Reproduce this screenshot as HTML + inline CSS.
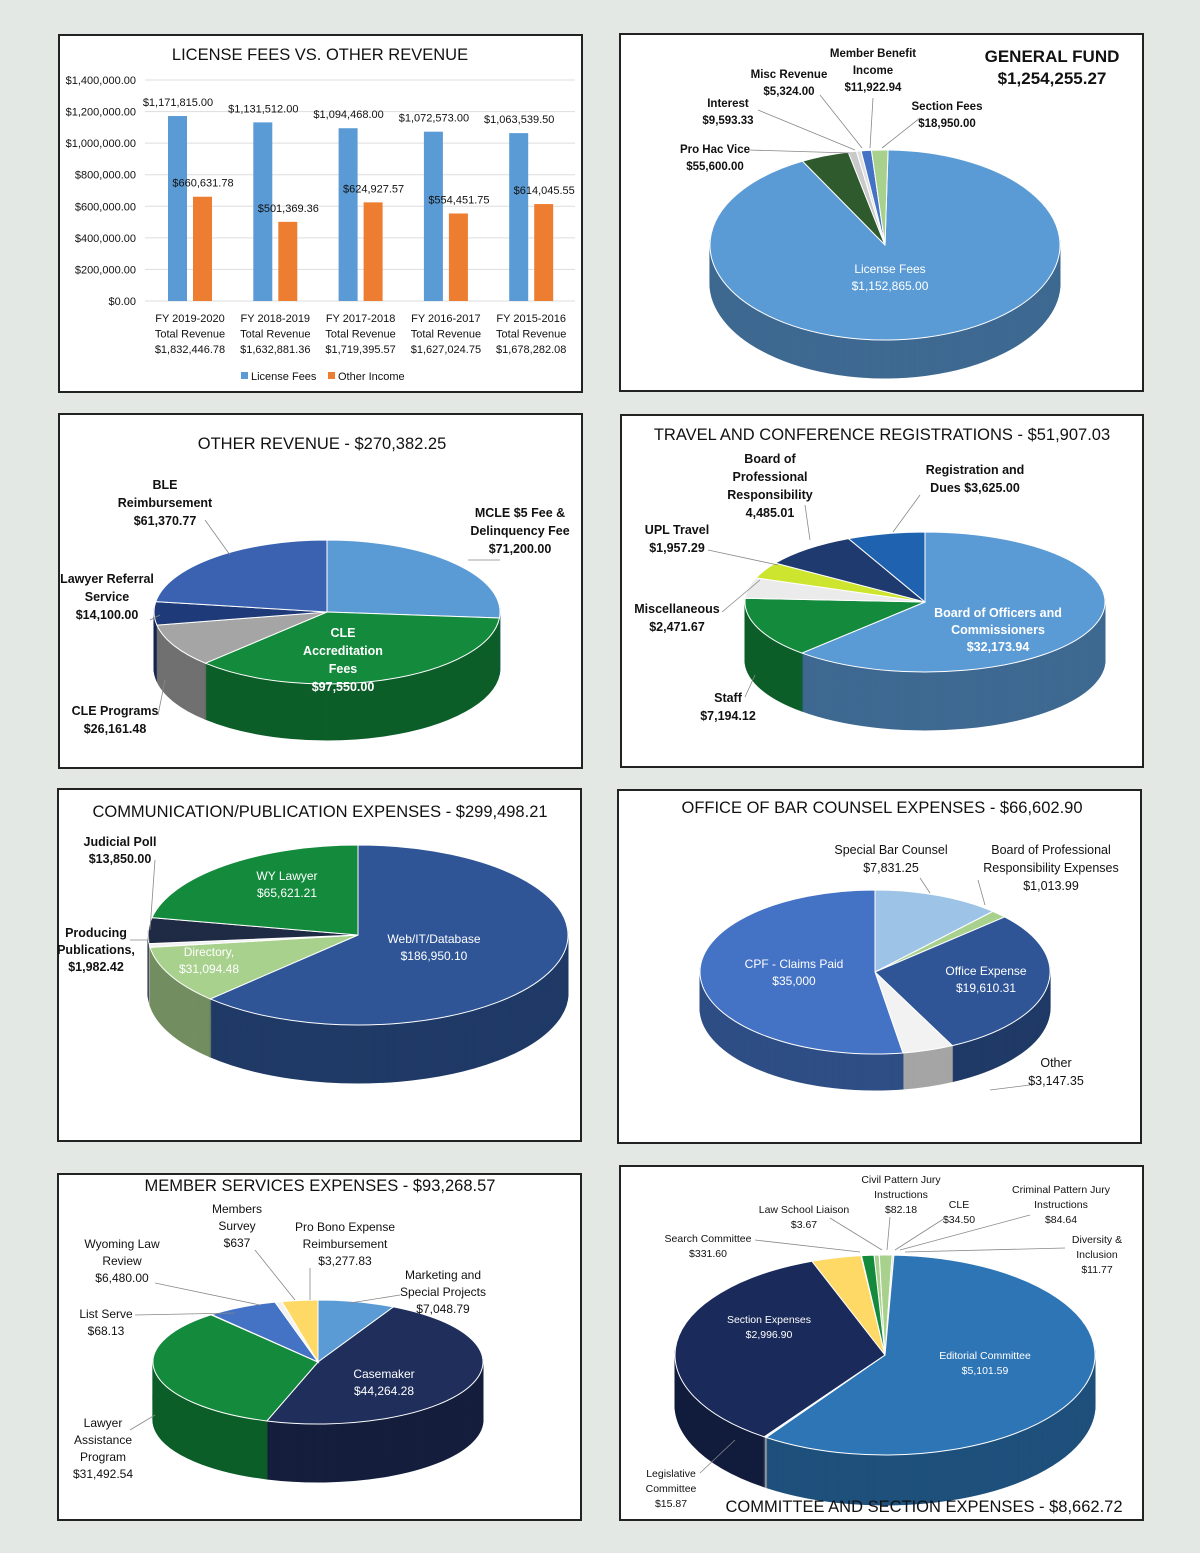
<!DOCTYPE html>
<html><head><meta charset="utf-8"><style>
html,body{margin:0;padding:0;background:#e6e9e6;}
svg{display:block;font-family:"Liberation Sans",sans-serif;}
</style></head><body>
<svg id="s" width="1200" height="1553" viewBox="0 0 1200 1553" xmlns="http://www.w3.org/2000/svg">
<rect width="1200" height="1553" fill="#e4e8e4"/>
</svg>
<script>
// ---- Bar chart data ----
const barCategories=["FY 2019-2020","FY 2018-2019","FY 2017-2018","FY 2016-2017","FY 2015-2016"];
const barTotals=["$1,832,446.78","$1,632,881.36","$1,719,395.57","$1,627,024.75","$1,678,282.08"];
const licenseFees=[1171815.00,1131512.00,1094468.00,1072573.00,1063539.50];
const otherIncome=[660631.78,501369.36,624927.57,554451.75,614045.55];
const barTicks=[0,200000,400000,600000,800000,1000000,1200000,1400000];
// ---- Pie data ----
const gfLabels=["License Fees","Pro Hac Vice","Interest","Misc Revenue","Member Benefit Income","Section Fees"];
const gfValues=[1152865.00,55600.00,9593.33,5324.00,11922.94,18950.00];
const orLabels=["MCLE $5 Fee","CLE Accreditation Fees","CLE Programs","Lawyer Referral Service","BLE Reimbursement"];
const orValues=[71200.00,97550.00,26161.48,14100.00,61370.77];
const trLabels=["Board of Officers","Staff","Miscellaneous","UPL Travel","Board of Prof Resp","Registration and Dues"];
const trValues=[32173.94,7194.12,2471.67,1957.29,4485.01,3625.00];
const cmLabels=["Web/IT/Database","Directory","Producing Publications","Judicial Poll","WY Lawyer"];
const cmValues=[186950.10,31094.48,1982.42,13850.00,65621.21];
const bcLabels=["Special Bar Counsel","Board of Prof Resp Expenses","Office Expense","Other","CPF - Claims Paid"];
const bcValues=[7831.25,1013.99,19610.31,3147.35,35000];
const msLabels=["Marketing","Casemaker","Lawyer Assistance","List Serve","Wyoming Law Review","Members Survey","Pro Bono"];
const msValues=[7048.79,44264.28,31492.54,68.13,6480.00,637,3277.83];
const ceLabels=["CLE","Criminal Pattern","Diversity","Editorial","Legislative","Section","Search","Law School","Civil Pattern"];
const ceValues=[34.50,84.64,11.77,5101.59,15.87,2996.90,331.60,3.67,82.18];

const NS="http://www.w3.org/2000/svg";
const S=document.getElementById('s');
function el(tag,attrs,parent){const e=document.createElementNS(NS,tag);for(const k in attrs)e.setAttribute(k,attrs[k]);(parent||S).appendChild(e);return e;}
function txt(x,y,lines,o){o=o||{};const g=el('text',{x:x,y:y,'font-size':o.size||12,'font-weight':o.w||'bold',fill:o.fill||'#111','text-anchor':o.a||'middle'});
 lines.forEach((l,i)=>{const t=el('tspan',{x:x,dy:i?(o.lh||17):0},g);t.textContent=l;});
 
 return g;}
function panel(x,y,w,h,name){const r=el('rect',{x:x,y:y,width:w,height:h,fill:'#fff',stroke:'#222','stroke-width':2});
 
 }
function line(pts){const p=el('polyline',{points:pts,fill:'none',stroke:'#888','stroke-width':0.8});
 
 }
function shade(c,f){const n=parseInt(c.slice(1),16);const r=Math.round((n>>16)*f),g=Math.round(((n>>8)&255)*f),b=Math.round((n&255)*f);return 'rgb('+r+','+g+','+b+')';}
function pie(cx,cy,rx,ry,depth,vals,cols,start,name){
 const tot=vals.reduce((a,b)=>a+b,0);const g=el('g',{});
 
 
 function layer(dy,dark){let a=start*Math.PI/180;
  vals.forEach((v,i)=>{const da=v/tot*2*Math.PI;const a2=a+da;
   const x1=cx+rx*Math.sin(a),y1=cy+dy-ry*Math.cos(a),x2=cx+rx*Math.sin(a2),y2=cy+dy-ry*Math.cos(a2);
   const c=dark?shade(cols[i],0.68):cols[i];
   const p=el('path',{d:`M${cx},${cy+dy}L${x1},${y1}A${rx},${ry} 0 ${da>Math.PI?1:0} 1 ${x2},${y2}Z`,fill:c,stroke:dark?c:'#fff','stroke-width':1},g);
   
   
   a=a2;});}
 for(let d=depth;d>0;d--)layer(d,true);
 layer(0,false);}

// ===== Panel 1: Bar chart =====
panel(59,35,523,357,'license-fees-chart-panel');
txt(320,60,["LICENSE FEES VS. OTHER REVENUE"],{size:16.5,w:'normal',name:'chart-title'});
const y0=301,yTop=80,yMax=1400000;
const yS=v=>y0-(v/yMax)*(y0-yTop);
barTicks.forEach(t=>{const l=el('line',{x1:145,x2:575,y1:yS(t),y2:yS(t),stroke:'#ddd'});
 
 
 txt(136,yS(t)+4,['$'+t.toLocaleString('en-US',{minimumFractionDigits:2})],{size:11,w:'normal',a:'end',name:'y-tick-label'});});
const xC=i=>190+i*85.3;
barCategories.forEach((c,i)=>{
 const bx=xC(i);
 const b1=el('rect',{x:bx-22,y:yS(licenseFees[i]),width:19,height:y0-yS(licenseFees[i]),fill:'#5b9bd5'});
 
 
 const b2=el('rect',{x:bx+3,y:yS(otherIncome[i]),width:19,height:y0-yS(otherIncome[i]),fill:'#ed7d31'});
 
 
 txt(bx-12,yS(licenseFees[i])-10,['$'+licenseFees[i].toLocaleString('en-US',{minimumFractionDigits:2})],{size:11,w:'normal',name:'bar-value'});
 txt(bx+13,yS(otherIncome[i])-10,['$'+otherIncome[i].toLocaleString('en-US',{minimumFractionDigits:2})],{size:11,w:'normal',name:'bar-value'});
 txt(bx,322,[c,'Total Revenue',barTotals[i]],{size:11,w:'normal',lh:15.5,name:'x-tick-label'});
});
el('rect',{x:241,y:372,width:7,height:7,fill:'#5b9bd5'});
txt(251,380,['License Fees'],{size:11,w:'normal',a:'start',name:'legend-entry'});
el('rect',{x:328,y:372,width:7,height:7,fill:'#ed7d31'});
txt(338,380,['Other Income'],{size:11,w:'normal',a:'start',name:'legend-entry'});

// ===== Panel 2: General Fund =====
panel(620,34,523,357,'general-fund-panel');
pie(885,245,175,95,38,gfValues,['#5b9bd5','#2e5a2e','#c9c9c9','#e0e0e0','#4472c4','#a9d18e'],1,'general-fund-pie');
txt(1052,62,['GENERAL FUND','$1,254,255.27'],{size:17,name:'chart-title',lh:22});
txt(890,273,['License Fees','$1,152,865.00'],{fill:'#fff',w:'normal',name:'slice-label'});
txt(715,153,['Pro Hac Vice','$55,600.00'],{size:11.5,name:'slice-label'});
txt(728,107,['Interest','$9,593.33'],{size:11.5,name:'slice-label'});
txt(789,78,['Misc Revenue','$5,324.00'],{size:11.5,name:'slice-label'});
txt(873,57,['Member Benefit','Income','$11,922.94'],{size:11.5,name:'slice-label'});
txt(947,110,['Section Fees','$18,950.00'],{size:11.5,name:'slice-label'});
line('748,150 850,153');line('758,110 855,150');line('820,95 862,148');line('873,98 870,148');line('920,118 882,148');

// ===== Panel 3: Other Revenue =====
panel(59,414,523,354,'other-revenue-panel');
pie(327,612,173,72,56,orValues,['#5b9bd5','#138a3c','#a5a5a5','#1f3a78','#3a62b0'],0,'other-revenue-pie');
txt(322,449,['OTHER REVENUE - $270,382.25'],{size:16.5,w:'normal',name:'chart-title'});
txt(165,489,['BLE','Reimbursement','$61,370.77'],{name:'slice-label',size:12.5,lh:18});
txt(520,517,['MCLE $5 Fee &','Delinquency Fee','$71,200.00'],{name:'slice-label',size:12.5,lh:18});
txt(107,583,['Lawyer Referral','Service','$14,100.00'],{name:'slice-label',size:12.5,lh:18});
txt(115,715,['CLE Programs','$26,161.48'],{name:'slice-label',size:12.5,lh:18});
txt(343,637,['CLE','Accreditation','Fees','$97,550.00'],{fill:'#fff',name:'slice-label',size:12.5,lh:18});
line('205,520 230,555');line('468,560 500,560');line('150,620 160,615');line('158,715 165,680');

// ===== Panel 4: Travel =====
panel(621,415,522,352,'travel-panel');
pie(925,602,180,70,58,trValues,['#5b9bd5','#138a3c','#ebebeb','#cde52f','#1f3a6e','#1f63b0'],0,'travel-pie');
txt(882,440,['TRAVEL AND CONFERENCE REGISTRATIONS - $51,907.03'],{size:16.5,w:'normal',name:'chart-title'});
txt(770,463,['Board of','Professional','Responsibility','4,485.01'],{name:'slice-label',size:12.5,lh:18});
txt(975,474,['Registration and','Dues  $3,625.00'],{name:'slice-label',size:12.5,lh:18});
txt(677,534,['UPL Travel','$1,957.29'],{name:'slice-label',size:12.5,lh:18});
txt(677,613,['Miscellaneous','$2,471.67'],{name:'slice-label',size:12.5,lh:18});
txt(728,702,['Staff','$7,194.12'],{name:'slice-label',size:12.5,lh:18});
txt(998,617,['Board of Officers and','Commissioners','$32,173.94'],{fill:'#fff',name:'slice-label',size:12.5,lh:17});
line('805,505 810,540');line('920,495 893,532');line('708,550 778,565');line('722,612 760,580');line('745,697 755,675');

// ===== Panel 5: Communication =====
panel(58,789,523,352,'communication-panel');
pie(358,935,210,90,58,cmValues,['#2f5597','#a9d18e','#f2f2f2','#1f2a44','#138a3c'],0,'communication-pie');
txt(320,817,['COMMUNICATION/PUBLICATION EXPENSES - $299,498.21'],{size:16.5,w:'normal',name:'chart-title'});
txt(120,846,['Judicial Poll','$13,850.00'],{name:'slice-label',size:12.5,lh:17});
txt(96,937,['Producing','Publications,','$1,982.42'],{name:'slice-label',size:12.5,lh:17,w:'bold'});
txt(287,880,['WY Lawyer','$65,621.21'],{fill:'#fff',name:'slice-label',size:12,w:'normal'});
txt(434,943,['Web/IT/Database','$186,950.10'],{fill:'#fff',name:'slice-label',size:12,w:'normal'});
txt(209,956,['Directory,','$31,094.48'],{fill:'#fff',name:'slice-label',size:12,w:'normal'});
line('155,860 150,930');line('130,940 150,940');

// ===== Panel 6: Bar Counsel =====
panel(618,790,523,353,'bar-counsel-panel');
pie(875,972,175,82,36,bcValues,['#9dc3e6','#a9d18e','#2f5597','#f2f2f2','#4472c4'],0,'bar-counsel-pie');
txt(882,813,['OFFICE OF BAR COUNSEL EXPENSES - $66,602.90'],{size:16.5,w:'normal',name:'chart-title'});
txt(891,854,['Special Bar Counsel','$7,831.25'],{name:'slice-label',size:12.5,lh:18,w:'normal'});
txt(1051,854,['Board of Professional','Responsibility Expenses','$1,013.99'],{name:'slice-label',size:12.5,lh:18,w:'normal'});
txt(794,968,['CPF - Claims Paid','$35,000'],{fill:'#fff',name:'slice-label',size:12,w:'normal'});
txt(986,975,['Office Expense','$19,610.31'],{fill:'#fff',name:'slice-label',size:12,w:'normal'});
txt(1056,1067,['Other','$3,147.35'],{name:'slice-label',size:12.5,lh:18,w:'normal'});
line('920,878 930,893');line('978,880 985,905');line('1030,1085 990,1090');

// ===== Panel 7: Member Services =====
panel(58,1174,523,346,'member-services-panel');
pie(318,1362,165,62,58,msValues,['#5b9bd5','#1f2e5a','#138a3c','#ffffff','#4472c4','#f2f2f2','#ffd966'],0,'member-services-pie');
txt(320,1191,['MEMBER SERVICES EXPENSES - $93,268.57'],{size:16.5,w:'normal',name:'chart-title'});
txt(237,1213,['Members','Survey','$637'],{name:'slice-label',size:12,lh:17,w:'normal'});
txt(345,1231,['Pro Bono Expense','Reimbursement','$3,277.83'],{name:'slice-label',size:12,lh:17,w:'normal'});
txt(122,1248,['Wyoming Law','Review','$6,480.00'],{name:'slice-label',size:12,lh:17,w:'normal'});
txt(443,1279,['Marketing and','Special Projects','$7,048.79'],{name:'slice-label',size:12,lh:17,w:'normal'});
txt(106,1318,['List Serve','$68.13'],{name:'slice-label',size:12,lh:17,w:'normal'});
txt(103,1427,['Lawyer','Assistance','Program','$31,492.54'],{name:'slice-label',size:12,lh:17,w:'normal'});
txt(384,1378,['Casemaker','$44,264.28'],{fill:'#fff',name:'slice-label',size:12,w:'normal'});
line('255,1250 295,1300');line('310,1268 310,1300');line('155,1283 260,1305');line('400,1295 350,1303');line('135,1315 235,1313');line('130,1430 155,1415');

// ===== Panel 8: Committee =====
panel(620,1166,523,354,'committee-panel');
pie(885,1355,210,100,50,ceValues,['#a9d18e','#a9d18e','#d9d9d9','#2e75b6','#f2f2f2','#1a2a5a','#ffd966','#f2f2f2','#138a3c'],-3,'committee-pie');
txt(924,1512,['COMMITTEE AND SECTION EXPENSES - $8,662.72'],{size:16.5,w:'normal',name:'chart-title'});
const cs={size:10.5,lh:15,w:'normal',name:'slice-label'};
txt(901,1183,['Civil Pattern Jury','Instructions','$82.18'],cs);
txt(1061,1193,['Criminal Pattern Jury','Instructions','$84.64'],cs);
txt(804,1213,['Law School Liaison','$3.67'],cs);
txt(959,1208,['CLE','$34.50'],cs);
txt(708,1242,['Search Committee','$331.60'],cs);
txt(1097,1243,['Diversity &','Inclusion','$11.77'],cs);
txt(769,1323,['Section Expenses','$2,996.90'],{...cs,fill:'#fff'});
txt(985,1359,['Editorial Committee','$5,101.59'],{...cs,fill:'#fff'});
txt(671,1477,['Legislative','Committee','$15.87'],cs);
line('755,1240 860,1252');line('830,1218 882,1250');line('890,1217 887,1250');line('945,1218 895,1250');line('1030,1215 900,1250');line('1065,1248 905,1252');line('700,1473 735,1440');
</script>
</body></html>
